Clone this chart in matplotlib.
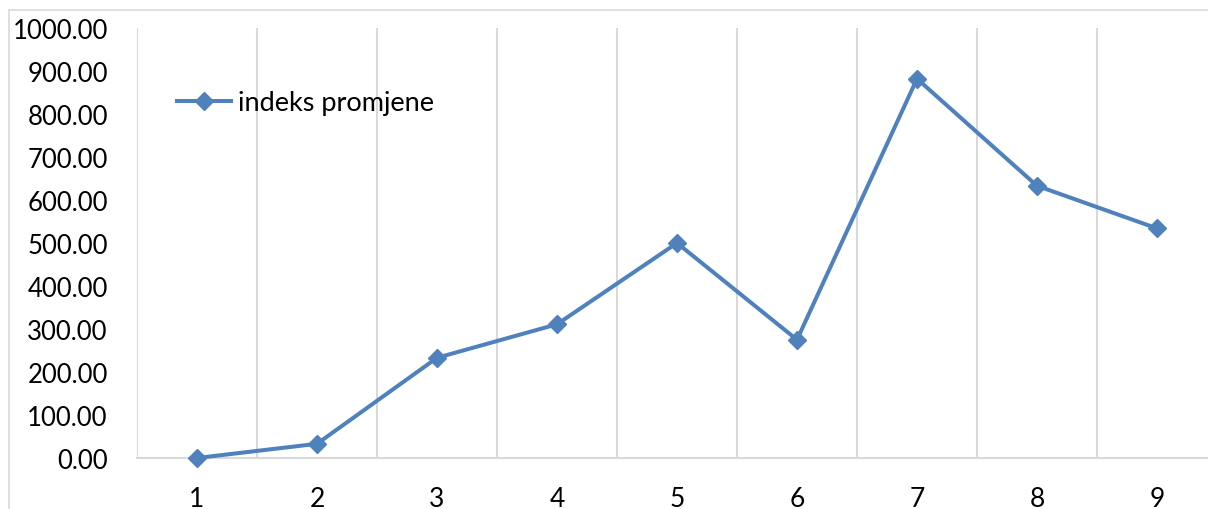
import matplotlib
matplotlib.use("Agg")
import matplotlib.pyplot as plt
from matplotlib.patches import Rectangle
from matplotlib.ticker import FormatStrFormatter, MultipleLocator, FixedLocator

# --- data ---
categories = [1, 2, 3, 4, 5, 6, 7, 8, 9]
indeks_promjene = [0.0, 33.0, 233.0, 311.0, 500.0, 275.0, 882.0, 633.0, 534.0]
series_label = "indeks promjene"

# --- style ---
LINE_COLOR = "#4f81bd"
GRID_COLOR = "#d9d9d9"
W, H = 1208, 510

plt.rcParams["font.family"] = ["Lato", "DejaVu Sans"]

fig = plt.figure(figsize=(W / 100, H / 100), dpi=100)

# chart border (right/bottom parts fall outside the picture)
fig.patches.append(Rectangle((9 / W, -0.5), 2.0, 1 - 11 / H + 0.5, transform=fig.transFigure,
                             fill=False, edgecolor=GRID_COLOR, linewidth=1.2))

left, bottom = 137 / W, (H - 459) / H
ax = fig.add_axes([left, bottom, 1080 / W, 430 / H])

ax.plot(categories, indeks_promjene, color=LINE_COLOR, linewidth=2.9,
        marker="D", markersize=9.5, label=series_label, clip_on=False, zorder=3)

ax.set_xlim(0.5, len(categories) + 0.5)
ax.set_ylim(0, 1000)
ax.yaxis.set_major_locator(MultipleLocator(100))
ax.yaxis.set_major_formatter(FormatStrFormatter("%.2f"))
ax.xaxis.set_major_locator(FixedLocator(categories))
ax.xaxis.set_minor_locator(FixedLocator([c + 0.5 for c in [0] + categories]))

ax.grid(True, which="minor", axis="x", color=GRID_COLOR, linewidth=1.5)
ax.set_axisbelow(True)

for side in ["top", "right", "left"]:
    ax.spines[side].set_visible(False)
ax.spines["bottom"].set_color(GRID_COLOR)
ax.spines["bottom"].set_linewidth(1.5)

ax.tick_params(axis="both", which="both", length=0, colors="black")
ax.tick_params(axis="x", labelsize=19, pad=20)
ax.tick_params(axis="y", labelsize=18.5, pad=21)

ax.legend(loc="center left", bbox_to_anchor=(177 / W, 1 - 104 / H), bbox_transform=fig.transFigure,
          frameon=False, fontsize=19.5, borderpad=0, borderaxespad=0,
          handlelength=2.0, handletextpad=0.25)

fig.savefig("out.png", dpi=100)
